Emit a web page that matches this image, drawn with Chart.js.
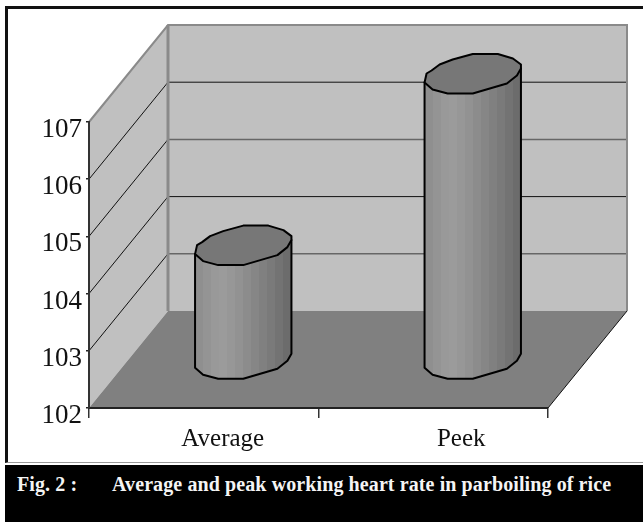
<!DOCTYPE html>
<html>
<head>
<meta charset="utf-8">
<title>Fig. 2</title>
<script src="https://cdn.jsdelivr.net/npm/chart.js@4"></script>
<style>
    html, body { margin: 0; padding: 0; background: #fff; overflow: hidden; }
    #wrap { position: relative; width: 643px; height: 523px; }
    #frame { position: absolute; left: 5px; top: 6px; right: 0; height: 457px; box-sizing: border-box;
             border-top: 3px solid #111; border-left: 3px solid #111; border-bottom: 1px solid #999; }
    #chart { position: absolute; left: 0; top: 0; }
    #caption { position: absolute; left: 5px; top: 465px; right: 0; height: 57px; background: #000; color: #f4f4f4;
               font: bold 20px "Liberation Serif", serif; }
    #caption span { position: absolute; top: 8px; white-space: nowrap; letter-spacing: 0.1px; }
</style>
</head>
<body>
<div id="wrap">
    <div id="frame"></div>
    <canvas id="chart" width="643" height="523"></canvas>
    <div id="caption">
        <span style="left: 12px">Fig. 2 :</span>
        <span style="left: 107px">Average and peak working heart rate in parboiling of rice</span>
    </div>
</div>
<script>
    const categories = ['Average', 'Peek'];
    const heartRate = [104, 107];
    const yMin = 102;
    const yMax = 107;

    // 3D look
    const depthX = 79;
    const depthY = 97;
    const wallColor = '#c0c0c0';
    const floorColor = '#808080';
    const edgeColor = '#8a8a8a';
    const capColor = '#777777';
    const bandColors = ['#8f8f8f', '#949494', '#999999', '#9b9b9b', '#979797', '#929292', '#8c8c8c', '#868686', '#808080', '#7a7a7a', '#737373', '#6c6c6c'];
    const xLabelShift = [19, 28];

    // cylinder outline, relative to its centre and half width (front part goes right to left)
    const capBack = [[-46, 0], [-41, -3], [-33, -9], [-20, -14], [0, -19.5], [25, -19.5], [40, -15], [48, -9]];
    const capFront = [[48, -5], [44, 2], [34, 10], [17, 15], [0, 20], [-25, 20], [-40, 16], [-48, 9]];

    function linePath(ctx, pts) {
        ctx.beginPath();
        pts.forEach((p, i) => i ? ctx.lineTo(p[0], p[1]) : ctx.moveTo(p[0], p[1]));
    }

    const box3d = {
        id: 'box3d',
        // walls and floor go under the axis lines
        beforeDraw(chart) {
            const ctx = chart.ctx;
            const xs = chart.scales.x;
            const ys = chart.scales.y;
            const l = xs.left, r = xs.right, t = ys.top, b = ys.bottom;
            ctx.save();

            ctx.fillStyle = wallColor;
            linePath(ctx, [[l + depthX, t - depthY], [r + depthX, t - depthY], [r + depthX, b - depthY], [l + depthX, b - depthY]]);
            ctx.closePath();
            ctx.fill();
            linePath(ctx, [[l, t], [l + depthX, t - depthY], [l + depthX, b - depthY], [l, b]]);
            ctx.closePath();
            ctx.fill();

            // grid lines on both walls
            ys.ticks.forEach((tick, i) => {
                if (tick.value === yMin || tick.value === yMax) return;
                const y = ys.getPixelForValue(tick.value);
                ctx.lineWidth = 1;
                ctx.strokeStyle = '#111';
                linePath(ctx, [[l, y], [l + depthX, y - depthY]]);
                ctx.stroke();
                ctx.lineWidth = i % 2 ? 1.5 : 1;
                ctx.strokeStyle = i % 2 ? '#666' : '#111';
                linePath(ctx, [[l + depthX, y - depthY], [r + depthX, y - depthY]]);
                ctx.stroke();
            });

            ctx.strokeStyle = edgeColor;
            ctx.lineWidth = 2;
            linePath(ctx, [[l, t], [l + depthX, t - depthY], [r + depthX, t - depthY], [r + depthX, b - depthY]]);
            ctx.stroke();
            ctx.lineWidth = 3;
            linePath(ctx, [[l + depthX, t - depthY], [l + depthX, b - depthY]]);
            ctx.stroke();

            ctx.fillStyle = floorColor;
            linePath(ctx, [[l, b], [l + depthX, b - depthY], [r + depthX, b - depthY], [r, b]]);
            ctx.closePath();
            ctx.fill();
            ctx.lineWidth = 1;
            ctx.strokeStyle = '#111';
            linePath(ctx, [[r, b], [r + depthX, b - depthY]]);
            ctx.stroke();
            ctx.restore();
        },
        afterDatasetsDraw(chart) {
            const ctx = chart.ctx;
            chart.getDatasetMeta(0).data.forEach(bar => {
                const cx = bar.x + depthX / 2;
                const top = bar.y - depthY / 2;
                const base = bar.base - depthY / 2;
                const k = bar.width / 96;
                const at = (p, y) => [cx + p[0] * k, y + p[1]];

                const body = [at(capFront[7], top)]
                    .concat([at(capFront[7], base)])
                    .concat(capFront.slice().reverse().slice(1).map(p => at(p, base)))
                    .concat([at(capFront[0], top)]);
                const grad = ctx.createLinearGradient(cx - bar.width / 2, 0, cx + bar.width / 2, 0);
                bandColors.forEach((c, i) => {
                    grad.addColorStop(i / bandColors.length, c);
                    grad.addColorStop((i + 1) / bandColors.length, c);
                });
                ctx.save();
                ctx.lineWidth = 2;
                ctx.lineJoin = 'round';
                ctx.strokeStyle = '#000';
                ctx.fillStyle = grad;
                linePath(ctx, body);
                ctx.closePath();
                ctx.fill();
                ctx.stroke();

                ctx.fillStyle = capColor;
                linePath(ctx, capBack.concat(capFront).map(p => at(p, top)));
                ctx.closePath();
                ctx.fill();
                ctx.stroke();
                ctx.restore();
            });

            // category labels sit off the tick centres, each by its own amount
            const xs = chart.scales.x;
            ctx.save();
            ctx.font = '25px "Liberation Serif", serif';
            ctx.fillStyle = '#111';
            ctx.textAlign = 'center';
            ctx.textBaseline = 'middle';
            categories.forEach((name, i) => {
                ctx.fillText(name, xs.getPixelForValue(i) + xLabelShift[i], 439);
            });
            ctx.restore();
        }
    };

    new Chart(document.getElementById('chart'), {
        type: 'bar',
        data: {
            labels: categories,
            datasets: [{
                label: 'Heart rate',
                data: heartRate,
                base: yMin,
                backgroundColor: 'transparent',
                categoryPercentage: 1,
                barPercentage: 0.42
            }]
        },
        options: {
            responsive: false,
            animation: false,
            layout: { padding: { top: 122, right: 95, left: 0, bottom: 0 } },
            plugins: { legend: { display: false }, tooltip: { enabled: false } },
            scales: {
                x: {
                    afterFit(scale) { scale.height = 115; },
                    grid: { drawOnChartArea: false, offset: true, tickLength: 10, color: '#333', lineWidth: 1.5 },
                    border: { color: '#222', width: 2 },
                    ticks: { display: false }
                },
                y: {
                    min: yMin,
                    max: yMax,
                    afterFit(scale) { scale.width = 89; },
                    grid: { drawOnChartArea: false, tickLength: 3, color: '#222', lineWidth: 1.5 },
                    border: { color: '#333', width: 2 },
                    ticks: {
                        stepSize: 1,
                        padding: 4,
                        labelOffset: 8,
                        color: '#111',
                        font: { family: '"Liberation Serif", serif', size: 27 }
                    }
                }
            }
        },
        plugins: [box3d]
    });
</script>
</body>
</html>
